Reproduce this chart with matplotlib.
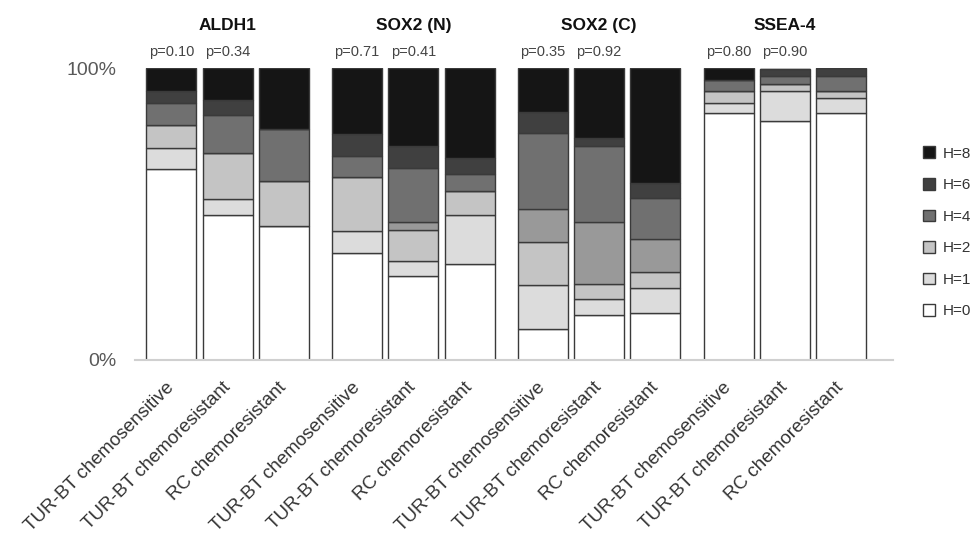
import numpy as np
import matplotlib
matplotlib.use('Agg')
import matplotlib.pyplot as plt
from matplotlib.patches import Patch
from matplotlib.transforms import blended_transform_factory

markers = ['ALDH1', 'SOX2 (N)', 'SOX2 (C)', 'SSEA-4']
groups = ['TUR-BT chemosensitive', 'TUR-BT chemoresistant', 'RC chemoresistant']
pvals = [['p=0.10', 'p=0.34'], ['p=0.71', 'p=0.41'],
         ['p=0.35', 'p=0.92'], ['p=0.80', 'p=0.90']]

# percentages per bar (12 bars: 4 markers x 3 groups)
H0 = [65.4, 49.8, 46.0, 36.8, 28.8, 32.9, 10.7, 15.5, 16.2, 84.6, 81.8, 84.8]
H1 = [7.4, 5.4, 0.0, 7.4, 5.2, 16.9, 14.9, 5.3, 8.4, 3.6, 10.5, 4.9]
H2 = [7.9, 15.8, 15.5, 18.4, 10.7, 8.2, 14.7, 5.3, 5.6, 4.1, 2.4, 2.6]
H3 = [0.0, 0.0, 0.0, 0.0, 2.5, 0.0, 11.5, 21.1, 11.3, 0.0, 0.0, 0.0]
H4 = [7.5, 13.1, 17.6, 7.4, 18.5, 5.8, 25.9, 26.3, 14.0, 3.7, 2.6, 5.1]
H6 = [4.1, 5.1, 0.0, 7.6, 7.7, 5.6, 7.4, 2.7, 5.2, 0.0, 2.6, 2.6]
H8 = [7.7, 10.8, 20.9, 22.4, 26.6, 30.6, 14.9, 23.8, 39.3, 4.0, 0.0, 0.0]

series = [('H=0', H0, '#ffffff'), ('H=1', H1, '#dcdcdc'), ('H=2', H2, '#c4c4c4'),
          ('H=3', H3, '#999999'), ('H=4', H4, '#707070'), ('H=6', H6, '#404040'),
          ('H=8', H8, '#151515')]

plt.rcParams['font.family'] = ['Liberation Sans', 'DejaVu Sans']

fig = plt.figure(figsize=(9.74, 5.36), dpi=100)
ax = fig.add_axes([0.1386, 0.3284, 0.9168 - 0.1386, 0.8726 - 0.3284])

x = np.array([g * 3.3 + i for g in range(len(markers)) for i in range(3)])
bottom = np.zeros(len(x))
for name, vals, col in series:
    vals = np.array(vals)
    ax.bar(x, vals, bottom=bottom, width=0.89, color=col,
           edgecolor='#3a3a3a', linewidth=1.0)
    bottom += vals

ax.set_xlim(-0.645, 12.82)
ax.set_ylim(0, 100)
ax.set_yticks([0, 100])
ax.set_yticklabels(['0%', '100%'], fontsize=14, color='#595959')
ax.tick_params(axis='y', length=0, pad=13)
ax.tick_params(axis='x', length=0, pad=18)
ax.set_xticks(x)
ax.set_xticklabels(groups * len(markers), rotation=45, ha='right', va='center',
                   rotation_mode='anchor', fontsize=13.6, color='#333333')
for s in ['top', 'right', 'left']:
    ax.spines[s].set_visible(False)
ax.spines['bottom'].set_color('#d0d0d0')
ax.spines['bottom'].set_linewidth(1.5)

tr = blended_transform_factory(ax.transData, ax.transAxes)
for g, m in enumerate(markers):
    ax.text(g * 3.3 + 1, 1.148, m, transform=tr, ha='center', va='center',
            fontsize=12.5, fontweight='bold', color='#111111')
    for i, p in enumerate(pvals[g]):
        ax.text(g * 3.3 + i, 1.056, p, transform=tr, ha='center', va='center',
                fontsize=10.5, color='#444444')

handles = [Patch(facecolor=col, edgecolor='#3a3a3a', linewidth=1.0, label=name)
           for name, vals, col in series if name != 'H=3'][::-1]
fig.legend(handles=handles, loc='upper left', bbox_to_anchor=(0.94, 0.741),
           frameon=False, fontsize=11, handlelength=0.8, handleheight=0.8,
           handletextpad=0.45, labelspacing=1.14, borderpad=0, labelcolor='#333333')

fig.savefig('out.png', dpi=100)
